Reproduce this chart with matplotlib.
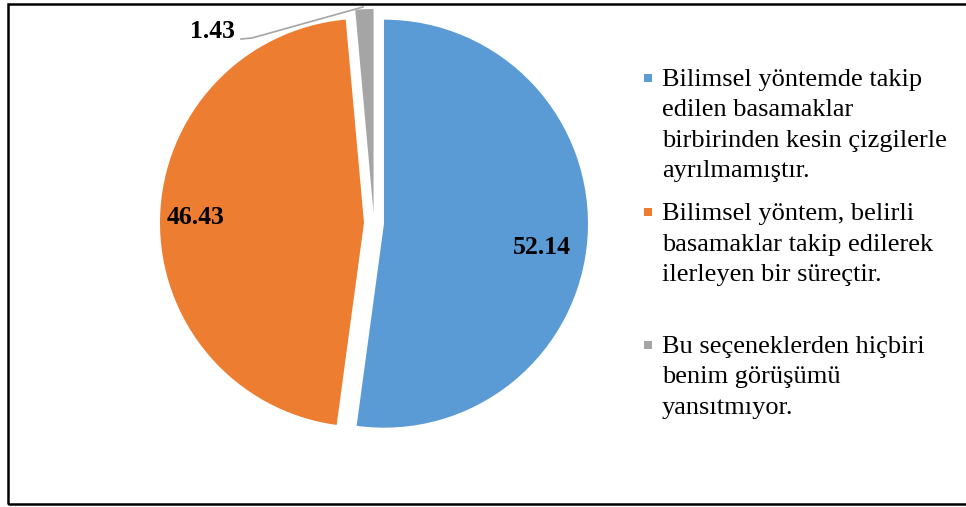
import matplotlib.pyplot as plt
from matplotlib.patches import Rectangle

# pie data
values = [52.14, 46.43, 1.43]
labels = ["Bilimsel yöntemde takip\nedilen basamaklar\nbirbirinden kesin çizgilerle\nayrılmamıştır.",
          "Bilimsel yöntem, belirli\nbasamaklar takip edilerek\nilerleyen bir süreçtir.",
          "Bu seçeneklerden hiçbiri\nbenim görüşümü\nyansıtmıyor."]
colors = ["#5B9BD5", "#ED7D31", "#A5A5A5"]

W, H = 966, 507
plt.rcParams['font.family'] = ['Liberation Serif', 'DejaVu Serif']

fig = plt.figure(figsize=(W / 100, H / 100), dpi=100)
ax = fig.add_axes([0, 0, 1, 1])

def py(y):
    # pixel row -> data y
    return H - y

# explode is in data units here (pixels)
ax.pie(values, colors=colors, explode=[10, 10, 10], startangle=90,
       counterclock=False, center=(374, py(223)), radius=204,
       wedgeprops=dict(linewidth=0))
ax.set_xlim(0, W)
ax.set_ylim(0, H)
ax.set_aspect('equal')
ax.axis('off')

# data labels
label_pos = [(542, 247), (196, 218), (213, 31)]
for v, (x, y) in zip(values, label_pos):
    ax.text(x, py(y), "%.2f" % v, ha='center', va='center',
            fontsize=18.5, fontweight='bold', color='black')

# leader line for the small slice
ax.plot([241, 252, 363], [py(39), py(38), py(7)], color='#A5A5A5', lw=1.2)

# legend drawn by hand
leg_y = [78, 212, 345]
for lab, c, y in zip(labels, colors, leg_y):
    ax.add_patch(Rectangle((644, py(y) - 4), 8, 8, color=c, lw=0))
    ax.text(662, py(y) + 9, lab, ha='left', va='top', fontsize=19,
            linespacing=1.5, color='black')

# outer border
ax.add_patch(Rectangle((8, py(504)), 970, 500, fill=False, ec='black',
                       lw=1.8, clip_on=False))

fig.savefig("out.png", dpi=100)
